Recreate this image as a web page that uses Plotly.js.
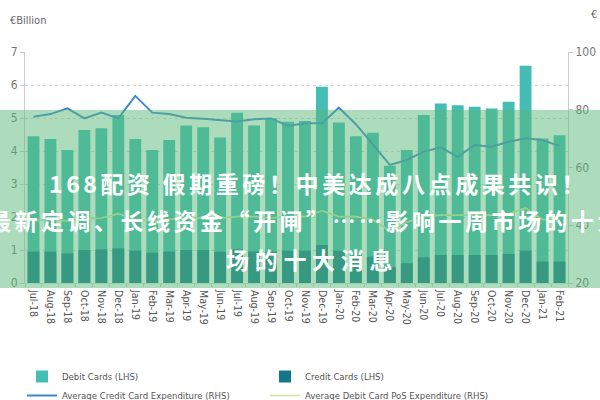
<!DOCTYPE html>
<html>
<head>
<meta charset="utf-8">
<script src="https://cdn.plot.ly/plotly-3.0.1.min.js"></script>
<style>html,body{margin:0;padding:0;background:#fff;}#chart{width:600px;height:400px;}</style>
</head>
<body>
<div id="chart"></div>
<script>
// ---- data ----
const months = ['Jul-18','Aug-18','Sep-18','Oct-18','Nov-18','Dec-18','Jan-19','Feb-19','Mar-19','Apr-19','May-19','Jun-19',
  'Jul-19','Aug-19','Sep-19','Oct-19','Nov-19','Dec-19','Jan-20','Feb-20','Mar-20','Apr-20','May-20','Jun-20',
  'Jul-20','Aug-20','Sep-20','Oct-20','Nov-20','Dec-20','Jan-21','Feb-21'];
const debitCards = [4.45,4.36,4.03,4.64,4.69,5.09,4.36,4.03,4.33,4.77,4.72,4.41,
  5.16,4.77,4.99,4.89,4.91,5.95,4.86,4.45,4.55,3.55,4.03,5.09,
  5.44,5.39,5.34,5.29,5.49,6.58,4.38,4.48];
const creditCards = [0.95,0.95,0.90,1.00,1.02,1.05,0.98,0.92,0.95,1.00,1.00,0.95,
  1.02,0.96,0.95,0.98,0.98,1.15,0.98,0.92,0.80,0.48,0.60,0.78,
  0.85,0.85,0.85,0.85,0.88,0.98,0.65,0.65];
const avgCreditExp = [77.6,78.5,80.5,77.0,79.0,77.0,84.8,79.0,78.5,77.2,76.9,76.5,
  75.9,76.7,77.0,74.4,75.3,75.3,80.7,75.0,68.0,60.9,62.6,65.5,
  67.0,63.7,67.8,67.2,68.9,70.1,69.5,67.4];
const avgDebitPosExp = [41.5,42.0,41.5,42.0,42.5,44.0,42.0,41.5,42.0,42.5,42.5,42.5,
  43.0,43.0,42.5,43.0,43.0,45.0,43.0,43.0,42.0,38.0,41.0,43.0,
  43.5,43.5,43.5,43.5,44.0,46.0,42.0,42.0];
const seriesNames = ['Debit Cards (LHS)','Credit Cards (LHS)','Average Credit Card Expenditure (RHS)','Average Debit Card PoS Expenditure (RHS)'];
const leftTitle = '€Billion';
const rightTitle = '€';
const overlayLines = ['168配资 假期重磅！中美达成八点成果共识！','最新定调、长线资金“开闸”……影响一周市场的十大','场的十大消息'];

// ---- geometry helpers (pixel -> paper) ----
const W=600,H=400,ML=25,MR=32,MT=52,MB=117;
const PW=W-ML-MR, PH=H-MT-MB;
const px=x=>(x-ML)/PW, py=y=>(H-MB-y)/PH;

const narrow='"Liberation Sans Narrow","DejaVu Sans Condensed","Arial Narrow",sans-serif';

const traces=[
  {type:'bar',x:months,y:debitCards,name:seriesNames[0],marker:{color:'#45bdb5'},yaxis:'y'},
  {type:'bar',x:months,y:creditCards,name:seriesNames[1],marker:{color:'#14788a'},yaxis:'y'},
  {type:'scatter',mode:'lines',x:months,y:avgCreditExp,name:seriesNames[2],line:{color:'#3f86c8',width:2},yaxis:'y2'},
  {type:'scatter',mode:'lines',x:months,y:avgDebitPosExp,name:seriesNames[3],line:{color:'#d3e6a2',width:1.6},yaxis:'y2'}
];

const cjk='"Noto Sans CJK SC","Noto Sans",sans-serif';
const sp=(t,s)=>'<span style="letter-spacing:'+s+'px">'+t+'</span>';

const layout={
  width:W,height:H,
  margin:{l:ML,r:MR,t:MT,b:MB,pad:0},
  paper_bgcolor:'#fff',plot_bgcolor:'#fff',
  font:{family:narrow,color:'#666'},
  barmode:'overlay',bargap:0.3,
  showlegend:true,
  xaxis:{type:'category',tickangle:90,tickfont:{size:10.5,color:'#555',family:narrow},
    showline:true,linecolor:'#e2e2e2',ticks:'outside',ticklen:3,tickcolor:'#ccc',tickson:'boundaries',
    ticklabelstandoff:4,showgrid:false,zeroline:false,fixedrange:true},
  yaxis:{range:[0,7],dtick:1,showgrid:true,gridcolor:'#d8d8d8',griddash:'dot',gridwidth:1,
    showline:true,linecolor:'#ccc',ticks:'outside',ticklen:4,tickcolor:'#ccc',
    tickfont:{size:12,color:'#777',family:narrow},zeroline:false,fixedrange:true},
  yaxis2:{overlaying:'y',side:'right',range:[20,100],dtick:20,showgrid:false,
    showline:true,linecolor:'#ccc',ticks:'outside',ticklen:4,tickcolor:'#ccc',
    tickfont:{size:12,color:'#777',family:narrow},zeroline:false,fixedrange:true},
  legend:{orientation:'h',xref:'container',yref:'container',x:22/600,y:1-362/400,
    xanchor:'left',yanchor:'top',entrywidth:198,entrywidthmode:'pixels',
    font:{size:9.5,color:'#555',family:narrow},traceorder:'normal',bgcolor:'rgba(0,0,0,0)'},
  shapes:[{type:'rect',xref:'paper',yref:'paper',x0:px(-10),x1:px(610),y0:py(288),y1:py(110),
    fillcolor:'rgba(90,185,120,0.5)',line:{width:0},layer:'above'}],
  annotations:[
    {xref:'paper',yref:'paper',x:px(8),y:py(20),xanchor:'left',yanchor:'middle',showarrow:false,
      text:leftTitle,font:{size:11,color:'#666',family:narrow}},
    {xref:'paper',yref:'paper',x:px(594),y:py(15),xanchor:'center',yanchor:'middle',showarrow:false,
      text:rightTitle,font:{size:11,color:'#666',family:narrow}},
    {xref:'paper',yref:'paper',x:px(47),y:py(183),xanchor:'left',yanchor:'middle',showarrow:false,
      text:sp(overlayLines[0],3.6),font:{size:23,color:'#fff',family:cjk,weight:700}},
    {xref:'paper',yref:'paper',x:px(-14),y:py(220),xanchor:'left',yanchor:'middle',showarrow:false,
      text:sp(overlayLines[1],3.5),font:{size:23,color:'#fff',family:cjk,weight:700}},
    {xref:'paper',yref:'paper',x:px(224),y:py(259),xanchor:'left',yanchor:'middle',showarrow:false,
      text:sp(overlayLines[2],5.7),font:{size:23,color:'#fff',family:cjk,weight:700}}
  ]
};

Plotly.newPlot('chart',traces,layout,{displayModeBar:false,staticPlot:true});
</script>
</body>
</html>
